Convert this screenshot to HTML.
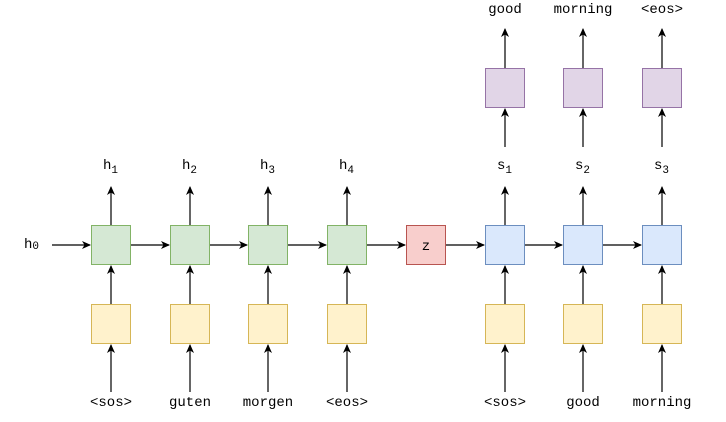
<!DOCTYPE html>
<html><head><style>body{margin:0;background:#fff}svg{display:block}text{font-family:"Liberation Mono",monospace;font-size:14px;fill:#000}</style></head>
<body>
<svg width="726" height="422" viewBox="0 0 726 422" xmlns="http://www.w3.org/2000/svg">
<defs><marker id="a" markerWidth="10" markerHeight="10" refX="8" refY="5" orient="auto" markerUnits="userSpaceOnUse"><path d="M0,1 L9,5 L0,9 L2.5,5 Z" fill="#000"/></marker></defs>
<g stroke="#000" stroke-width="1.2" marker-end="url(#a)" fill="none">
<!-- bottom inputs -->
<line x1="111" y1="392" x2="111" y2="345"/><line x1="190" y1="392" x2="190" y2="345"/><line x1="268" y1="392" x2="268" y2="345"/><line x1="347" y1="392" x2="347" y2="345"/>
<line x1="505" y1="392" x2="505" y2="345"/><line x1="583" y1="392" x2="583" y2="345"/><line x1="662" y1="392" x2="662" y2="345"/>
<!-- yellow to rnn -->
<line x1="111" y1="304" x2="111" y2="266"/><line x1="190" y1="304" x2="190" y2="266"/><line x1="268" y1="304" x2="268" y2="266"/><line x1="347" y1="304" x2="347" y2="266"/>
<line x1="505" y1="304" x2="505" y2="266"/><line x1="583" y1="304" x2="583" y2="266"/><line x1="662" y1="304" x2="662" y2="266"/>
<!-- rnn up -->
<line x1="111" y1="225" x2="111" y2="187"/><line x1="190" y1="225" x2="190" y2="187"/><line x1="268" y1="225" x2="268" y2="187"/><line x1="347" y1="225" x2="347" y2="187"/>
<line x1="505" y1="225" x2="505" y2="187"/><line x1="583" y1="225" x2="583" y2="187"/><line x1="662" y1="225" x2="662" y2="187"/>
<!-- s to purple -->
<line x1="505" y1="147" x2="505" y2="109"/><line x1="583" y1="147" x2="583" y2="109"/><line x1="662" y1="147" x2="662" y2="109"/>
<line x1="505" y1="68" x2="505" y2="29"/><line x1="583" y1="68" x2="583" y2="29"/><line x1="662" y1="68" x2="662" y2="29"/>
<!-- horizontal -->
<line x1="52" y1="245" x2="90" y2="245"/><line x1="131" y1="245" x2="169" y2="245"/><line x1="210" y1="245" x2="247" y2="245"/><line x1="288" y1="245" x2="326" y2="245"/>
<line x1="367" y1="245" x2="405" y2="245"/><line x1="445" y1="245" x2="484" y2="245"/><line x1="525" y1="245" x2="562" y2="245"/><line x1="603" y1="245" x2="641" y2="245"/>
</g>
<g stroke-width="1">
<g fill="#d5e8d4" stroke="#82b366"><rect x="91.5" y="225.5" width="39" height="39"/><rect x="170.5" y="225.5" width="39" height="39"/><rect x="248.5" y="225.5" width="39" height="39"/><rect x="327.5" y="225.5" width="39" height="39"/></g>
<g fill="#fff2cc" stroke="#d6b656"><rect x="91.5" y="304.5" width="39" height="39"/><rect x="170.5" y="304.5" width="39" height="39"/><rect x="248.5" y="304.5" width="39" height="39"/><rect x="327.5" y="304.5" width="39" height="39"/><rect x="485.5" y="304.5" width="39" height="39"/><rect x="563.5" y="304.5" width="39" height="39"/><rect x="642.5" y="304.5" width="39" height="39"/></g>
<g fill="#dae8fc" stroke="#6c8ebf"><rect x="485.5" y="225.5" width="39" height="39"/><rect x="563.5" y="225.5" width="39" height="39"/><rect x="642.5" y="225.5" width="39" height="39"/></g>
<g fill="#e1d5e7" stroke="#9673a6"><rect x="485.5" y="68.5" width="39" height="39"/><rect x="563.5" y="68.5" width="39" height="39"/><rect x="642.5" y="68.5" width="39" height="39"/></g>
<rect x="406.5" y="225.5" width="39" height="39" fill="#f8cecc" stroke="#b85450"/>
</g>
<g text-anchor="middle">
<text x="426" y="250">z</text>
<text x="111" y="406">&lt;sos&gt;</text><text x="190" y="406">guten</text><text x="268" y="406">morgen</text><text x="347" y="406">&lt;eos&gt;</text>
<text x="505" y="406">&lt;sos&gt;</text><text x="583" y="406">good</text><text x="662" y="406">morning</text>
<text x="505" y="13">good</text><text x="583" y="13">morning</text><text x="662" y="13">&lt;eos&gt;</text>
</g>
<text x="103" y="169">h<tspan font-size="11" dy="4">1</tspan></text>
<text x="182" y="169">h<tspan font-size="11" dy="4">2</tspan></text>
<text x="260" y="169">h<tspan font-size="11" dy="4">3</tspan></text>
<text x="339" y="169">h<tspan font-size="11" dy="4">4</tspan></text>
<text x="497" y="169">s<tspan font-size="11" dy="4">1</tspan></text>
<text x="575" y="169">s<tspan font-size="11" dy="4">2</tspan></text>
<text x="654" y="169">s<tspan font-size="11" dy="4">3</tspan></text>
<text x="24" y="248">h<tspan font-size="11" dy="1">0</tspan></text>
</svg>
</body></html>
